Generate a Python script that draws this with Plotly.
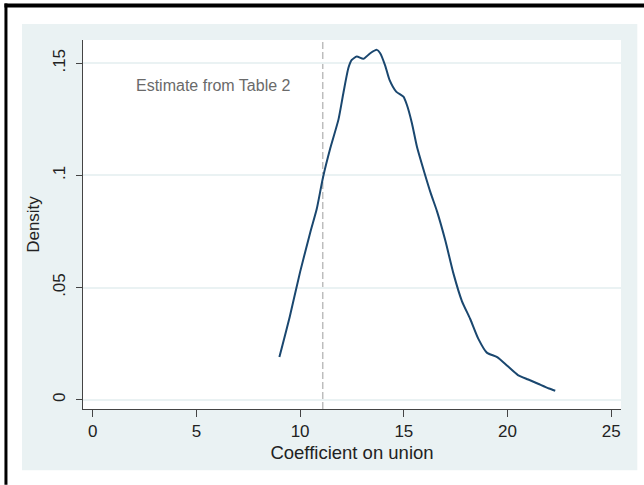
import plotly.graph_objects as go

# ---- data ----
coef_x = [9.0, 9.5, 10.0, 10.5, 10.8, 11.1, 11.45, 11.85, 12.09, 12.33, 12.49, 12.73,
          13.05, 13.38, 13.70, 13.86, 14.1, 14.31, 14.63, 14.98, 15.15, 15.39, 15.63,
          16.0, 16.3, 16.6, 17.0, 17.4, 17.8, 18.2, 18.6, 19.0, 19.5, 20.0, 20.5,
          21.0, 21.5, 22.0, 22.3]
density = [0.019, 0.037, 0.057, 0.075, 0.085, 0.099, 0.112, 0.125, 0.137, 0.148, 0.1515, 0.153,
           0.152, 0.1545, 0.156, 0.1545, 0.149, 0.1426, 0.1374, 0.1351, 0.1314, 0.1233, 0.1129,
           0.101, 0.092, 0.084, 0.071, 0.056, 0.044, 0.036, 0.027, 0.021, 0.019, 0.015, 0.011,
           0.009, 0.007, 0.005, 0.004]
estimate = 11.09
x_ticks = [0, 5, 10, 15, 20, 25]
y_ticks = [0, 0.05, 0.1, 0.15]
y_ticklabels = ["0", ".05", ".1", ".15"]
note_text = "Estimate from Table 2"

# ---- layout geometry (pixels) ----
W, H = 644, 485
L, R, T, B = 83, 620.7, 40, 409.3
PW, PH = R - L, B - T

def pxx(p):
    return (p - L) / PW

def pxy(p):
    return (B - p) / PH

BG = "#EAF2F3"
NAVY = "#1a476f"
FONT = "Liberation Sans, Arial, sans-serif"

fig = go.Figure()
fig.add_trace(go.Scatter(x=coef_x, y=density, mode="lines",
                         line=dict(color=NAVY, width=2, shape="spline", smoothing=0.6),
                         hoverinfo="skip", showlegend=False))

shapes = [
    dict(type="rect", xref="paper", yref="paper", x0=pxx(22), x1=pxx(637), y0=pxy(470.7), y1=pxy(24),
         fillcolor=BG, line=dict(width=0), layer="below"),
    dict(type="rect", xref="paper", yref="paper", x0=0, x1=1, y0=0, y1=1,
         fillcolor="white", line=dict(width=0), layer="below"),
    dict(type="line", xref="x", yref="paper", x0=estimate, x1=estimate, y0=0, y1=1,
         line=dict(color="#bdbdbd", width=1.5, dash="7px,3px"), layer="below"),
    # outer frame: top and left edges as filled bars
    dict(type="rect", xref="paper", yref="paper", x0=pxx(4.5), x1=pxx(644), y0=pxy(7.5), y1=pxy(3.5),
         fillcolor="black", line=dict(width=0)),
    dict(type="rect", xref="paper", yref="paper", x0=pxx(4.5), x1=pxx(7.5), y0=pxy(485), y1=pxy(3.5),
         fillcolor="black", line=dict(width=0)),
]

fig.update_layout(
    width=W, height=H,
    margin=dict(l=L, r=W - R, t=T, b=H - B, pad=0),
    paper_bgcolor="white", plot_bgcolor="white",
    font=dict(family=FONT, size=17, color="#222222"),
    shapes=shapes,
    showlegend=False,
    annotations=[dict(x=9.66, y=0.14, xref="x", yref="y", text=note_text, showarrow=False,
                      xanchor="right", yanchor="middle",
                      font=dict(family=FONT, size=16, color="#6a6a6a"))],
)

fig.update_xaxes(range=[-0.468, 25.47], tickvals=x_ticks, ticks="outside", ticklen=7,
                 tickcolor="#444", showline=True, linecolor="#444", linewidth=1,
                 showgrid=False, zeroline=False,
                 title=dict(text="Coefficient on union", standoff=5, font=dict(size=18.5)),
                 tickfont=dict(size=17))
fig.update_yaxes(range=[-0.00414, 0.1604], tickvals=y_ticks, ticktext=y_ticklabels,
                 tickangle=-90, ticks="outside", ticklen=6, tickcolor="#444",
                 showline=True, linecolor="#444", linewidth=1,
                 showgrid=True, gridcolor=BG, gridwidth=1.5, zeroline=False,
                 ticklabelstandoff=4,
                 title=dict(text="Density", standoff=6, font=dict(size=17)),
                 tickfont=dict(size=17))

fig.write_html("out.html", config={"displayModeBar": False},
               post_script="document.body.style.margin='0';window.scrollTo(0,0);")
